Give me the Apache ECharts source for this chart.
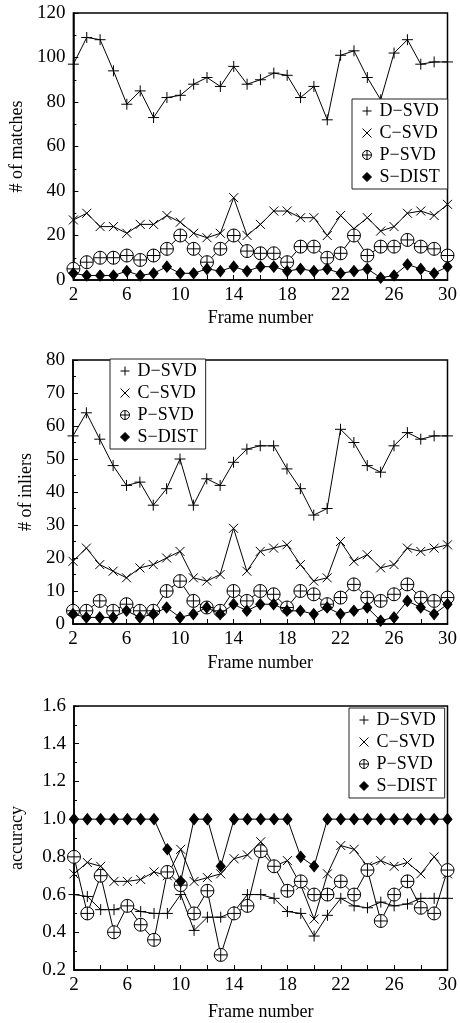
<!DOCTYPE html>
<html>
<head>
<meta charset="utf-8">
<script src="https://cdn.jsdelivr.net/npm/echarts@6/dist/echarts.min.js"></script>
<style>
  html, body { margin: 0; padding: 0; background: #fff; }
  #chart { width: 460px; height: 1023px; }
</style>
</head>
<body>
<div id="chart"></div>
<script>
const frames = ['2', '3', '4', '5', '6', '7', '8', '9', '10', '11', '12', '13', '14', '15', '16',
  '17', '18', '19', '20', '21', '22', '23', '24', '25', '26', '27', '28', '29', '30']
const methods = ['D\u2212SVD', 'C\u2212SVD', 'P\u2212SVD', 'S\u2212DIST']

// # of matches
const matchesD = [97, 109, 108, 94, 79, 85, 73, 82, 83, 88, 91, 87, 96, 88, 90, 93, 92, 82, 87, 72, 101, 103, 91, 81, 102, 108, 97, 98, 98]
const matchesC = [27, 30, 24, 24, 21, 25, 25, 29, 26, 21, 19, 21, 37, 20, 25, 31, 31, 28, 28, 20, 29, 23, 28, 22, 24, 30, 31, 29, 34]
const matchesP = [5, 8, 10, 10, 11, 9, 11, 14, 20, 14, 8, 14, 20, 13, 12, 12, 8, 15, 15, 10, 12, 20, 11, 15, 15, 18, 15, 14, 11]
const matchesS = [3, 2, 2, 2, 4, 2, 3, 6, 3, 3, 5, 4, 6, 4, 6, 6, 4, 5, 4, 5, 3, 4, 5, 1, 2, 7, 5, 3, 6]

// # of inliers
const inliersD = [57, 64, 56, 48, 42, 43, 36, 41, 50, 36, 44, 42, 49, 53, 54, 54, 47, 41, 33, 35, 59, 55, 48, 46, 54, 58, 56, 57, 57]
const inliersC = [19, 23, 18, 16, 14, 17, 18, 20, 22, 14, 13, 15, 29, 16, 22, 23, 24, 18, 13, 14, 25, 19, 21, 17, 18, 23, 22, 23, 24]
const inliersP = [4, 4, 7, 4, 6, 4, 4, 10, 13, 7, 5, 4, 10, 7, 10, 9, 5, 10, 9, 6, 8, 12, 8, 7, 9, 12, 8, 7, 8]
const inliersS = [3, 2, 2, 2, 4, 2, 3, 5, 2, 3, 5, 3, 6, 4, 6, 6, 4, 4, 3, 5, 3, 4, 5, 1, 2, 7, 5, 3, 6]

// accuracy
const accD = [0.60, 0.59, 0.52, 0.52, 0.54, 0.51, 0.50, 0.50, 0.60, 0.41, 0.48, 0.48, 0.51, 0.60, 0.60, 0.58, 0.51, 0.50, 0.38, 0.49, 0.58, 0.54, 0.53, 0.56, 0.54, 0.55, 0.58, 0.58, 0.58]
const accC = [0.71, 0.77, 0.75, 0.67, 0.67, 0.68, 0.72, 0.70, 0.84, 0.67, 0.69, 0.71, 0.79, 0.81, 0.88, 0.75, 0.78, 0.65, 0.47, 0.71, 0.86, 0.84, 0.75, 0.78, 0.75, 0.77, 0.71, 0.80, 0.71]
const accP = [0.80, 0.50, 0.70, 0.40, 0.54, 0.44, 0.36, 0.72, 0.65, 0.50, 0.62, 0.28, 0.50, 0.54, 0.83, 0.75, 0.62, 0.67, 0.60, 0.60, 0.67, 0.60, 0.73, 0.46, 0.60, 0.67, 0.53, 0.50, 0.73]
const accS = [1, 1, 1, 1, 1, 1, 1, 0.84, 0.67, 1, 1, 0.75, 1, 1, 1, 1, 1, 0.80, 0.75, 1, 1, 1, 1, 1, 1, 1, 1, 1, 1]

const FONT = 'Liberation Serif'
const symbols = [
  { symbol: 'path://M5,0L5,10M0,5L10,5', size: 11, fill: '#000' },
  { symbol: 'path://M0,0L10,10M10,0L0,10', size: 9, fill: '#000' },
  { symbol: 'path://M12,6A6,6,0,1,1,0,6A6,6,0,1,1,12,6ZM6,0L6,12M0,6L12,6', size: 13, fill: '#fff' },
  { symbol: 'diamond', size: [9, 11], fill: '#000' }
]

const grids = [
  { left: 73, right: 12, top: 13, height: 267 },
  { left: 73, right: 12, top: 360, height: 264 },
  { left: 73, right: 12, top: 706, height: 264 }
]

function makeSeries(idx, values) {
  return values.map((data, i) => ({
    name: methods[i],
    type: 'line',
    xAxisIndex: idx,
    yAxisIndex: idx,
    data,
    symbol: symbols[i].symbol,
    symbolSize: symbols[i].size,
    showAllSymbol: true,
    lineStyle: { color: '#000', width: 1 },
    itemStyle: { color: symbols[i].fill, borderColor: '#000', borderWidth: 1 },
    emphasis: { disabled: true },
    z: 2 + i
  }))
}

function makeLegend(idx, left, top) {
  return {
    orient: 'vertical',
    left,
    top,
    padding: [3, 8, 3, 10],
    itemGap: 4,
    itemWidth: 9,
    itemHeight: 9,
    borderColor: '#222',
    borderWidth: 1,
    backgroundColor: '#fff',
    selectedMode: false,
    itemStyle: { borderWidth: 1 },
    textStyle: { fontFamily: FONT, fontSize: 18, lineHeight: 18, color: '#000', padding: [0, 0, 0, 3] },
    data: methods.map((name, i) => ({ name, icon: symbols[i].symbol }))
  }
}

function makeXAxis(idx, nameGap) {
  return {
    type: 'category',
    gridIndex: idx,
    data: frames,
    boundaryGap: false,
    name: 'Frame number',
    nameLocation: 'middle',
    nameGap,
    nameTextStyle: { fontFamily: FONT, fontSize: 18, color: '#000' },
    axisLine: { lineStyle: { color: '#000', width: 1.5 } },
    axisTick: { inside: true, interval: 1, length: 5, lineStyle: { color: '#000' } },
    axisLabel: { interval: 3, fontFamily: FONT, fontSize: 19, color: '#000', margin: 6 },
    splitLine: { show: false }
  }
}

function makeYAxis(idx, name, min, max, interval, nameGap, digits) {
  return {
    type: 'value',
    gridIndex: idx,
    min,
    max,
    interval,
    name,
    nameLocation: 'middle',
    nameGap,
    nameTextStyle: { fontFamily: FONT, fontSize: 18, color: '#000' },
    axisLine: { show: true, lineStyle: { color: '#000', width: 1.5 } },
    axisTick: { show: true, inside: true, length: 5, lineStyle: { color: '#000' } },
    minorTick: { show: true, splitNumber: 2, length: 3, lineStyle: { color: '#000' } },
    axisLabel: {
      fontFamily: FONT,
      fontSize: 19,
      color: '#000',
      margin: 8,
      formatter: v => digits ? v.toFixed(digits) : String(v)
    },
    splitLine: { show: false }
  }
}

const chart = echarts.init(document.getElementById('chart'))
chart.setOption({
  animation: false,
  backgroundColor: '#fff',
  grid: grids.map(g => Object.assign({ show: true, borderColor: '#000', borderWidth: 1.5 }, g)),
  legend: [
    makeLegend(0, 352, 99),
    makeLegend(1, 110, 359),
    makeLegend(2, 349, 708)
  ],
  xAxis: [makeXAxis(0, 29), makeXAxis(1, 30), makeXAxis(2, 33)],
  yAxis: [
    makeYAxis(0, '# of matches', 0, 120, 20, 38, 0),
    makeYAxis(1, '# of inliers', 0, 80, 10, 38, 0),
    makeYAxis(2, 'accuracy', 0.2, 1.6, 0.2, 48, 1)
  ],
  series: [
    ...makeSeries(0, [matchesD, matchesC, matchesP, matchesS]),
    ...makeSeries(1, [inliersD, inliersC, inliersP, inliersS]),
    ...makeSeries(2, [accD, accC, accP, accS])
  ]
})
</script>
</body>
</html>
